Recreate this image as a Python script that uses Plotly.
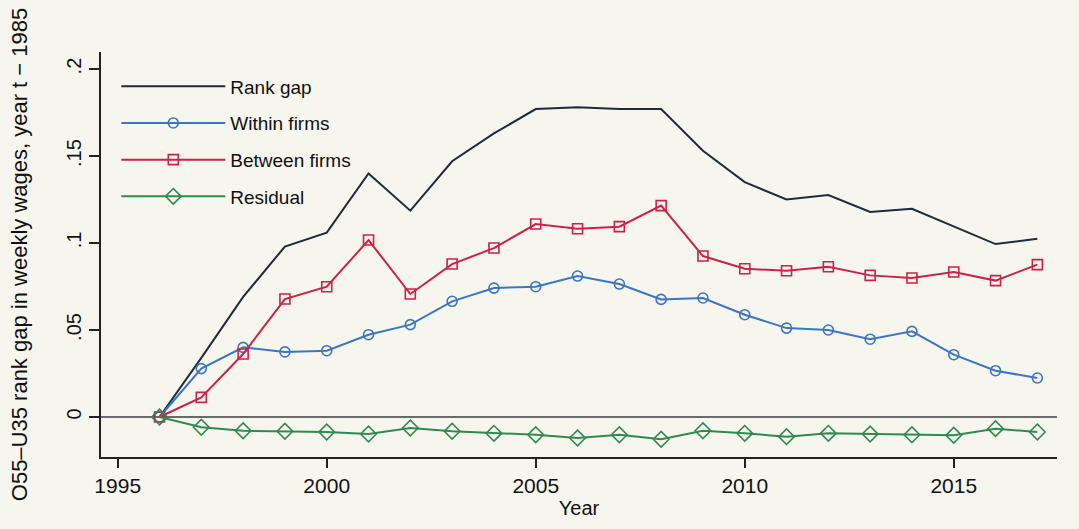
import plotly.graph_objects as go

years = list(range(1996, 2018))

rank_gap = [0.0, 0.034, 0.069, 0.098, 0.106, 0.140, 0.1186, 0.147, 0.163, 0.177,
            0.178, 0.177, 0.177, 0.153, 0.135, 0.125, 0.1276, 0.1178, 0.1197,
            0.1096, 0.0994, 0.1025]
within_firms = [0.0, 0.0278, 0.0400, 0.0374, 0.0381, 0.0473, 0.0531, 0.0665, 0.0741,
                0.0749, 0.0810, 0.0764, 0.0676, 0.0684, 0.0588, 0.0511, 0.0500,
                0.0447, 0.0492, 0.0358, 0.0266, 0.0224]
between_firms = [0.0, 0.0113, 0.0362, 0.0678, 0.0749, 0.1017, 0.0707, 0.0879, 0.0971,
                 0.1109, 0.1082, 0.1094, 0.1215, 0.0925, 0.0852, 0.0841, 0.0864,
                 0.0814, 0.0799, 0.0833, 0.0784, 0.0876]
residual = [0.0, -0.0059, -0.0079, -0.0082, -0.0086, -0.0098, -0.0063, -0.0082,
            -0.0094, -0.0102, -0.0121, -0.0102, -0.0128, -0.0079, -0.0094, -0.0113,
            -0.0094, -0.0098, -0.0102, -0.0105, -0.0067, -0.0086]

y_tickvals = [0, 0.05, 0.1, 0.15, 0.2]
y_ticktext = ["0", ".05", ".1", ".15", ".2"]
x_tickvals = [1995, 2000, 2005, 2010, 2015]

BG = "#f7f6ee"
FONT = "Liberation Sans, Arial, sans-serif"

fig = go.Figure()

fig.add_trace(go.Scatter(
    x=years, y=rank_gap, name="Rank gap", mode="lines",
    line=dict(color="#1d2b3a", width=2), legendgroup="a",
))
fig.add_trace(go.Scatter(
    x=years, y=within_firms, name="Within firms", mode="lines+markers",
    line=dict(color="#3a76c4", width=2),
    marker=dict(symbol="circle-open", size=10, line=dict(width=1.6, color="#35609a")),
    legendgroup="b",
))
fig.add_trace(go.Scatter(
    x=years, y=between_firms, name="Between firms", mode="lines+markers",
    line=dict(color="#cc2246", width=2),
    marker=dict(symbol="square-open", size=10, line=dict(width=1.6, color="#b01c3c")),
    legendgroup="c",
))
fig.add_trace(go.Scatter(
    x=years, y=residual, name="Residual", mode="lines+markers",
    line=dict(color="#2f8a50", width=2),
    marker=dict(symbol="diamond-open", size=12, line=dict(width=1.6, color="#2c6e44")),
    legendgroup="d",
))

fig.update_layout(
    width=1079, height=529,
    margin=dict(l=101, r=22, t=52, b=72),
    paper_bgcolor=BG, plot_bgcolor=BG,
    font=dict(family=FONT, size=20, color="#111111"),
    showlegend=True,
    legend=dict(
        x=0.016, y=0.962, xanchor="left", yanchor="top",
        bgcolor="rgba(0,0,0,0)", font=dict(size=19),
        itemwidth=104, tracegroupgap=9,
    ),
)

fig.update_xaxes(
    range=[1994.6, 2017.47], tickvals=x_tickvals,
    showline=True, linecolor="#222222", linewidth=1.5,
    ticks="outside", ticklen=9, tickwidth=1.5, tickcolor="#222222",
    showgrid=False, zeroline=False, tickfont=dict(size=21),
    title=dict(text="Year", font=dict(size=20), standoff=0),
)
fig.update_yaxes(
    range=[-0.023, 0.2098], tickvals=y_tickvals, ticktext=y_ticktext,
    tickangle=-90, tickfont=dict(size=20),
    showline=True, linecolor="#222222", linewidth=1.5,
    ticks="outside", ticklen=10, tickwidth=1.5, tickcolor="#222222",
    showgrid=False,
    zeroline=True, zerolinecolor="#6a6a6a", zerolinewidth=1.5,
    title=dict(text="O55–U35 rank gap in weekly wages, year t − 1985",
               font=dict(size=22), standoff=30),
)

fig.write_html("out.html")
